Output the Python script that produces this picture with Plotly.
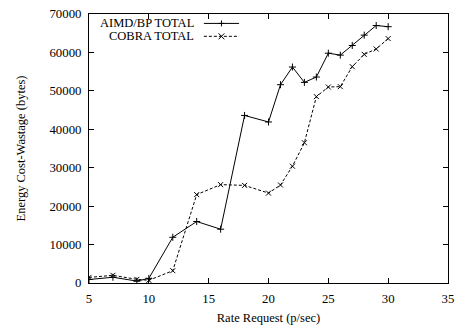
import plotly.graph_objects as go

rate = [5, 7, 9, 10, 12, 14, 16, 18, 20, 21, 22, 23, 24, 25, 26, 27, 28, 29, 30]
aimd_total = [900, 1500, 500, 1200, 11900, 16000, 14000, 43600, 41900, 51600, 56200, 52200,
              53600, 59800, 59300, 61800, 64500, 67000, 66700]
cobra_total = [1450, 2000, 950, 700, 3200, 23000, 25600, 25400, 23400, 25500, 30400, 36500,
               48500, 51000, 51100, 56300, 59500, 60900, 63600]
x_ticks = [5, 10, 15, 20, 25, 30, 35]
y_ticks = [0, 10000, 20000, 30000, 40000, 50000, 60000, 70000]
series_names = ["AIMD/BP TOTAL", "COBRA TOTAL"]

FONT = "Liberation Serif"
fig = go.Figure()
fig.add_trace(go.Scatter(x=rate, y=aimd_total, mode="lines+markers", name=series_names[0],
                         line=dict(color="black", width=1),
                         marker=dict(symbol="cross-thin", size=5, color="black",
                                     line=dict(width=1, color="black"))))
fig.add_trace(go.Scatter(x=rate, y=cobra_total, mode="lines+markers", name=series_names[1],
                         line=dict(color="black", width=1, dash="3px,2px"),
                         marker=dict(symbol="x-thin", size=5, color="black",
                                     line=dict(width=1, color="black"))))

axis_common = dict(showgrid=False, zeroline=False, showline=True, linecolor="black",
                   linewidth=1, mirror="ticks", ticks="inside", ticklen=5, automargin=False,
                   tickcolor="black", tickfont=dict(family=FONT, size=12.8, color="black"))
fig.update_xaxes(range=[5, 35], tickvals=x_ticks, ticklabelstandoff=4,
                 title=dict(text="Rate Request (p/sec)", font=dict(family=FONT, size=12.5, color="black"),
                            standoff=7), **axis_common)
fig.update_yaxes(range=[0, 70000], tickvals=y_ticks, ticktext=[str(v) for v in y_ticks],
                 ticklabelstandoff=4,
                 title=dict(text="Energy Cost-Wastage (bytes)", font=dict(family=FONT, size=12.5, color="black"),
                            standoff=21), **axis_common)

# gnuplot-style key: right-aligned text, sample line to the right
key_y = [0.965, 0.917]
for i, (name, yk) in enumerate(zip(series_names, key_y)):
    fig.add_annotation(xref="paper", yref="paper", x=0.299, y=yk, text=name, showarrow=False,
                       xanchor="right", yanchor="middle", font=dict(family=FONT, size=12.5, color="black"))
    fig.add_shape(type="line", xref="paper", yref="paper", x0=0.32, x1=0.418, y0=yk, y1=yk,
                  line=dict(color="black", width=1, dash="solid" if i == 0 else "3px,2px"))
# key markers
xm = 0.369
dx, dy = 0.008, 0.011
fig.add_shape(type="line", xref="paper", yref="paper", x0=xm - dx, x1=xm + dx, y0=key_y[0], y1=key_y[0],
              line=dict(color="black", width=1))
fig.add_shape(type="line", xref="paper", yref="paper", x0=xm, x1=xm, y0=key_y[0] - dy, y1=key_y[0] + dy,
              line=dict(color="black", width=1))
fig.add_shape(type="line", xref="paper", yref="paper", x0=xm - dx, x1=xm + dx, y0=key_y[1] - dy, y1=key_y[1] + dy,
              line=dict(color="black", width=1))
fig.add_shape(type="line", xref="paper", yref="paper", x0=xm - dx, x1=xm + dx, y0=key_y[1] + dy, y1=key_y[1] - dy,
              line=dict(color="black", width=1))

fig.update_layout(width=456, height=325, margin=dict(l=89, r=8, t=14, b=42),
                  plot_bgcolor="white", paper_bgcolor="white", showlegend=False,
                  font=dict(family=FONT, size=12, color="black"))
fig.write_html("out.html", config={"displayModeBar": False})

# remove the default page margin so the figure sits at the window's corner
with open("out.html", encoding="utf-8") as f:
    html = f.read()
html = html.replace("<head>", "<head><style>html,body{margin:0;padding:0;overflow:hidden;}</style>", 1)
with open("out.html", "w", encoding="utf-8") as f:
    f.write(html)
